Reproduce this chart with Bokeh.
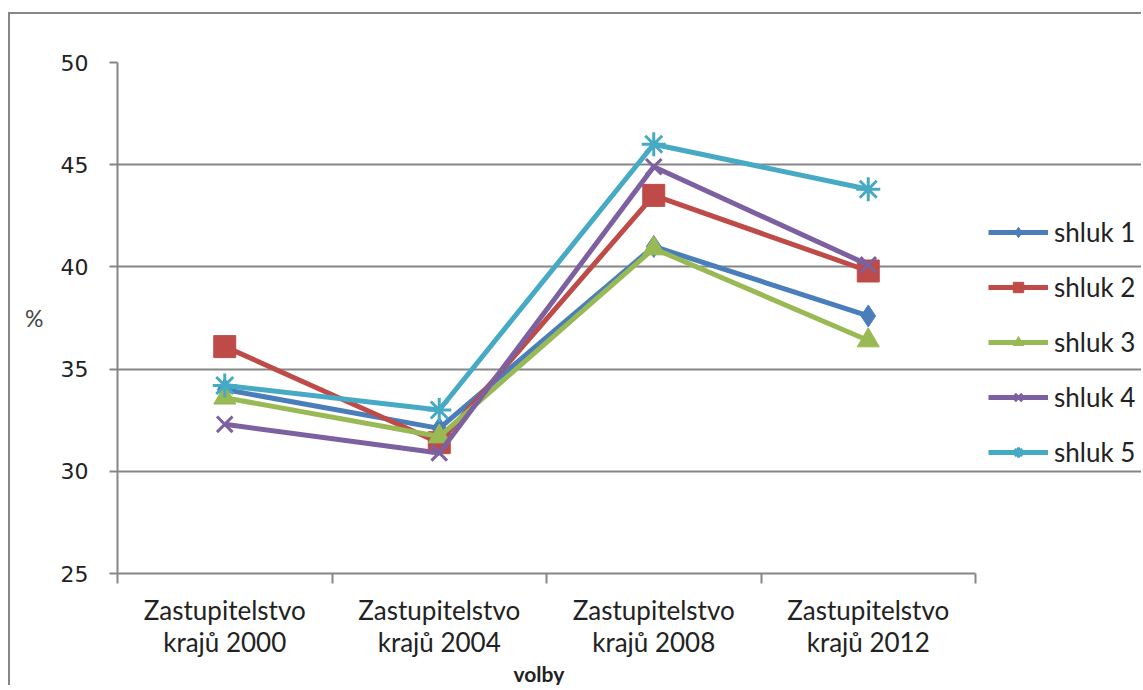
from bokeh.plotting import figure
from bokeh.models import FixedTicker, Range1d, Legend, LegendItem, Title
from bokeh.embed import file_html
from bokeh.resources import INLINE

categories = ["Zastupitelstvo\nkrajů 2000", "Zastupitelstvo\nkrajů 2004",
              "Zastupitelstvo\nkrajů 2008", "Zastupitelstvo\nkrajů 2012"]
shluk_1 = [34.0, 32.1, 41.0, 37.6]
shluk_2 = [36.1, 31.4, 43.5, 39.8]
shluk_3 = [33.6, 31.7, 40.9, 36.4]
shluk_4 = [32.3, 30.9, 44.9, 40.1]
shluk_5 = [34.2, 33.0, 46.0, 43.8]
series_names = ["shluk 1", "shluk 2", "shluk 3", "shluk 4", "shluk 5"]
y_ticks = [25, 30, 35, 40, 45, 50]
x_title = "volby"
y_title = "%"

series = [shluk_1, shluk_2, shluk_3, shluk_4, shluk_5]
colors = ["#4A7EBB", "#BE4B48", "#98B954", "#7D60A0", "#46AAC5"]
markers = ["diamond", "square", "triangle", "x", "asterisk"]
msizes = [22, 22, 22, 22, 24]

n = len(categories)
x = [i + 0.5 for i in range(n)]

# layout (pixels)
FIG_W, FIG_H = 1133, 673
LEFT, TOP, BOTTOM = 107, 48, 100
PLOT_W = 858                      # width of the plotting area (axis extent)
frame_w = FIG_W - LEFT
x_end = n * frame_w / PLOT_W      # extra room on the right holds the legend

p = figure(width=FIG_W, height=FIG_H, output_backend="svg", toolbar_location=None,
           x_range=Range1d(0, x_end), y_range=Range1d(25, 50),
           min_border_left=LEFT, min_border_right=0, min_border_top=TOP,
           min_border_bottom=BOTTOM)
p.margin = (12, 0, 0, 8)
p.styles = {"border-left": "2px solid #868686", "border-top": "2px solid #868686"}
p.outline_line_color = None
p.background_fill_color = "white"
p.border_fill_color = "white"

FONT = "Lato"
# y axis
p.yaxis.ticker = FixedTicker(ticks=y_ticks)
p.yaxis.axis_line_color = "#868686"
p.yaxis.axis_line_width = 2
p.yaxis.major_tick_line_color = "#868686"
p.yaxis.major_tick_line_width = 2
p.yaxis.major_tick_out = 8
p.yaxis.major_tick_in = 0
p.yaxis.minor_tick_line_color = None
p.yaxis.major_label_text_font = "DejaVu Sans"
p.yaxis.major_label_text_font_size = "22px"
p.yaxis.major_label_text_color = "#222222"
p.yaxis.major_label_standoff = 21
p.yaxis.axis_label = y_title
p.yaxis.axis_label_orientation = "horizontal"
p.yaxis.axis_label_text_font = FONT
p.yaxis.axis_label_text_font_style = "normal"
p.yaxis.axis_label_text_font_size = "23px"
p.yaxis.axis_label_standoff = 14

# x axis
p.xaxis.bounds = (0, n)
p.xaxis.ticker = FixedTicker(ticks=x, minor_ticks=list(range(n + 1)))
p.xaxis.major_label_overrides = {xx: c for xx, c in zip(x, categories)}
p.xaxis.axis_line_color = "#868686"
p.xaxis.axis_line_width = 2
p.xaxis.major_tick_line_color = None
p.xaxis.major_tick_out = 10
p.xaxis.minor_tick_line_color = "#868686"
p.xaxis.minor_tick_line_width = 2
p.xaxis.minor_tick_out = 10
p.xaxis.minor_tick_in = 0
p.xaxis.major_label_text_font = FONT
p.xaxis.major_label_text_font_size = "26px"
p.xaxis.major_label_text_color = "#222222"
p.xaxis.major_label_text_line_height = 1.0
p.xaxis.major_label_standoff = 10

# x-axis title centred under the plotting area (not under the legend)
xt = Title(text=x_title, align="left", vertical_align="top", offset=PLOT_W / 2 - 33,
           text_font=FONT, text_font_style="bold", text_font_size="21px",
           text_color="#222222", standoff=0)
p.add_layout(xt, "below")

p.xgrid.grid_line_color = None
p.ygrid.ticker = FixedTicker(ticks=y_ticks)
p.ygrid.bounds = (0, n)
p.ygrid.grid_line_color = "#868686"
p.ygrid.grid_line_width = 2

items = []
for name, vals, col, mk, ms in zip(series_names, series, colors, markers, msizes):
    ln = p.line(x, vals, line_color=col, line_width=5)
    lw = 3 if mk in ("x", "asterisk") else 1
    sc = p.scatter(x, vals, marker=mk, size=ms, fill_color=col, line_color=col, line_width=lw)
    items.append(LegendItem(label=name, renderers=[ln, sc]))

legend = Legend(items=items, location=(PLOT_W + 13, 105))
legend.label_text_font = FONT
legend.label_text_font_size = "26px"
legend.label_text_color = "#222222"
legend.glyph_width = 60
legend.glyph_height = 26
legend.label_height = 26
legend.spacing = 23
legend.border_line_color = None
legend.background_fill_alpha = 0
legend.padding = 0
legend.margin = 0
legend.label_standoff = 6
p.add_layout(legend, "center")

open("out.html", "w").write(file_html(p, INLINE))
